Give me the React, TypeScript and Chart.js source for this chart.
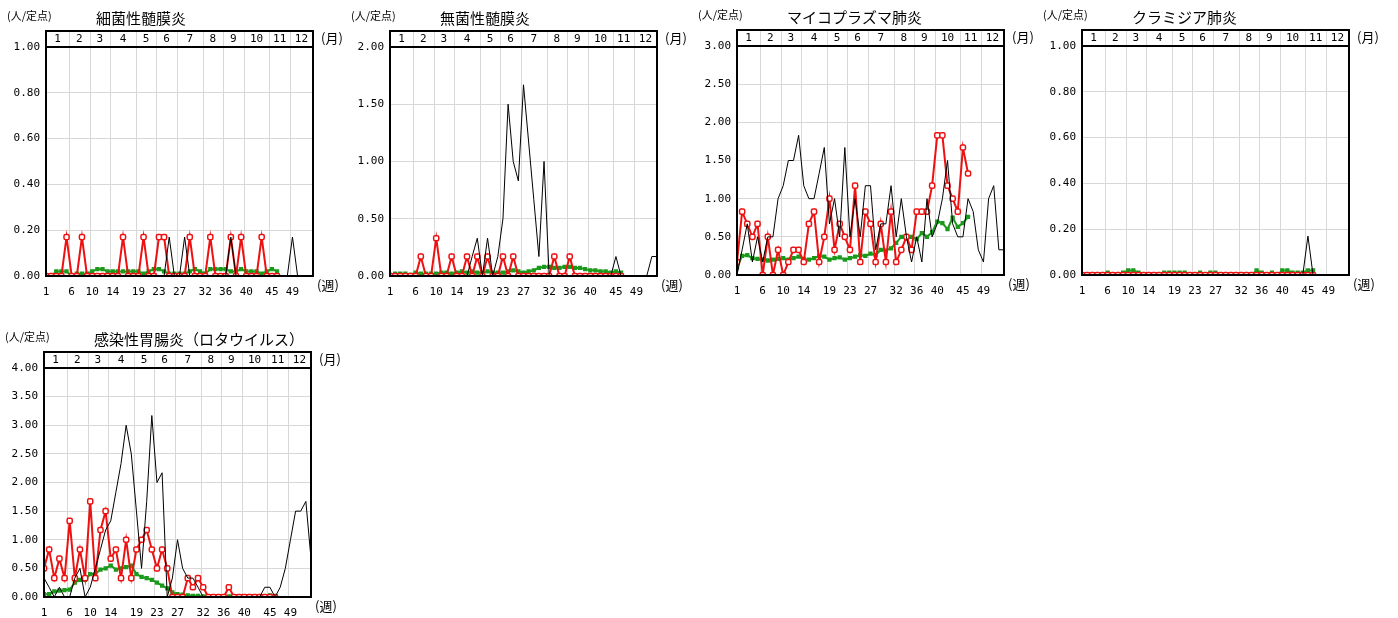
import { useEffect, useRef } from "react"
import { Chart, registerables } from "chart.js"

Chart.register(...registerables)

const weeks = Array.from({ length: 53 }, (_, i) => i + 1)
const weekTicks = [1, 6, 10, 14, 19, 23, 27, 32, 36, 40, 45, 49]
const monthLabels = ["1", "2", "3", "4", "5", "6", "7", "8", "9", "10", "11", "12"]
const monthEdges = [1, 5.5, 9.5, 13.5, 18.5, 22.5, 26.5, 31.5, 35.5, 39.5, 44.5, 48.5, 53]

// 細菌性髄膜炎
const bactPrev = [0,0,0,0,0,0,0,0,0,0,0,0,0,0,0,0,0,0,0,0,0,0,0,0,0.17,0,0,0.17,0,0,0,0,0,0,0,0,0.17,0,0,0,0,0,0,0,0,0,0,0,0.17,0,0,0,0]
const bactNow = [0,0,0,0,0.17,0,0,0.17,0,0,0,0,0,0,0,0.17,0,0,0,0.17,0,0,0.17,0.17,0,0,0,0,0.17,0,0,0,0.17,0,0,0,0.17,0,0.17,0,0,0,0.17,0,0,0]
const bactAvg = [0,0,0.02,0.02,0.02,0,0.01,0.01,0.01,0.02,0.03,0.03,0.02,0.02,0.02,0.02,0.02,0.02,0.02,0.01,0.02,0.03,0.03,0.02,0.01,0.01,0.01,0.01,0.02,0.03,0.02,0.01,0.03,0.03,0.03,0.03,0.02,0.02,0.03,0.02,0.02,0.02,0.01,0.02,0.03,0.02]

// 無菌性髄膜炎
const asepPrev = [0,0,0,0,0,0,0,0,0,0,0,0,0,0,0,0,0.17,0.33,0,0.33,0,0.17,0.5,1.5,1.0,0.83,1.67,1.17,0.67,0.17,1.0,0,0,0,0,0,0,0,0,0,0,0,0,0,0.17,0,0,0,0,0,0,0.17,0.17]
const asepNow = [0,0,0,0,0,0,0.17,0,0,0.33,0,0,0.17,0,0,0.17,0,0.17,0,0.17,0,0,0.17,0,0.17,0,0,0,0,0,0,0,0.17,0,0,0.17,0,0,0,0,0,0,0,0,0,0]
const asepAvg = [0.01,0.02,0.02,0.02,0.01,0.03,0.02,0.02,0.02,0.02,0.03,0.03,0.02,0.03,0.04,0.03,0.04,0.03,0.03,0.04,0.03,0.03,0.03,0.04,0.05,0.04,0.03,0.04,0.05,0.07,0.08,0.08,0.07,0.07,0.08,0.08,0.07,0.07,0.06,0.05,0.05,0.04,0.04,0.03,0.04,0.03]

// マイコプラズマ肺炎
const mycoPrev = [0,0.33,0.67,0.17,0.5,0.17,0.5,0.5,1.0,1.17,1.5,1.5,1.83,1.17,1.0,1.0,1.33,1.67,0.67,1.0,0.5,1.67,0.5,1.0,0.5,1.17,1.17,0.33,0.67,0.67,1.17,0.5,1.0,0.5,0.17,0.5,0.17,1.0,0.5,0.67,1.0,1.5,0.67,0.5,0.5,1.0,0.83,0.33,0.17,1.0,1.17,0.33,0.33]
const mycoNow = [0.17,0.83,0.67,0.5,0.67,0,0.5,0,0.33,0,0.17,0.33,0.33,0.17,0.67,0.83,0.17,0.5,1.0,0.33,0.67,0.5,0.33,1.17,0.17,0.83,0.67,0.17,0.67,0.17,0.83,0.17,0.33,0.5,0.33,0.83,0.83,0.83,1.17,1.83,1.83,1.17,1.0,0.83,1.67,1.33]
const mycoAvg = [0.1,0.25,0.26,0.22,0.21,0.2,0.19,0.2,0.21,0.22,0.2,0.22,0.24,0.21,0.2,0.22,0.25,0.24,0.2,0.22,0.23,0.2,0.22,0.24,0.26,0.25,0.28,0.26,0.33,0.32,0.35,0.42,0.5,0.48,0.5,0.47,0.55,0.5,0.56,0.7,0.68,0.6,0.75,0.63,0.68,0.76]

// クラミジア肺炎
const chlaPrev = [0,0,0,0,0,0,0,0,0,0,0,0,0,0,0,0,0,0,0,0,0,0,0,0,0,0,0,0,0,0,0,0,0,0,0,0,0,0,0,0,0,0,0,0,0.17,0,0,0,0,0,0,0,0]
const chlaNow = [0,0,0,0,0,0,0,0,0,0,0,0,0,0,0,0,0,0,0,0,0,0,0,0,0,0,0,0,0,0,0,0,0,0,0,0,0,0,0,0,0,0,0,0,0,0]
const chlaAvg = [0,0,0,0,0,0.01,0,0,0.01,0.02,0.02,0.01,0,0,0,0,0.01,0.01,0.01,0.01,0.01,0,0,0.01,0,0.01,0.01,0,0,0,0,0,0,0,0.02,0.01,0,0.01,0,0.02,0.02,0.01,0.01,0.01,0.02,0.02]

// 感染性胃腸炎（ロタウイルス）
const rotaPrev = [0.33,0.17,0,0.17,0,0,0.33,0.5,0,0.17,0.5,0.83,1.17,1.33,1.83,2.33,3.0,2.5,1.5,0.5,1.67,3.17,2.0,2.17,0,0.33,1.0,0.5,0.33,0.33,0.17,0,0,0,0,0,0,0,0,0,0,0,0,0.17,0.17,0,0.17,0.5,1.0,1.5,1.5,1.67,0.67]
const rotaNow = [0.5,0.83,0.33,0.67,0.33,1.33,0.33,0.83,0.33,1.67,0.33,1.17,1.5,0.67,0.83,0.33,1.0,0.33,0.83,1.0,1.17,0.83,0.5,0.83,0.5,0,0,0,0.33,0.17,0.33,0.17,0,0,0,0,0.17,0,0,0,0,0,0,0,0,0]
const rotaAvg = [0.05,0.05,0.1,0.11,0.12,0.13,0.25,0.3,0.3,0.4,0.4,0.48,0.5,0.55,0.48,0.5,0.52,0.55,0.4,0.35,0.33,0.3,0.25,0.2,0.15,0.08,0.05,0.04,0.03,0.02,0.02,0.01,0.01,0.01,0.01,0.01,0.01,0.01,0.01,0.01,0.01,0.01,0.01,0.01,0.03,0.01]

const W = 352
const H = 300

interface PanelProps {
  title: string
  left: number
  top: number
  yMax: number
  step: number
  prev: number[]
  now: number[]
  avg: number[]
}

function Panel({ title, left, top, yMax, step, prev, now, avg }: PanelProps) {
  const chartRef = useRef<HTMLCanvasElement>(null)

  useEffect(() => {
    if (!chartRef.current) return
    const ctx = chartRef.current.getContext("2d")
    if (!ctx) return

    const decor = {
      id: "decor",
      beforeDatasetsDraw(chart: any) {
        const { ctx, chartArea } = chart
        const xs = chart.scales.x
        ctx.save()
        ctx.strokeStyle = "#d8d8d8"
        ctx.lineWidth = 1
        for (let i = 1; i < monthEdges.length - 1; i++) {
          const px = Math.round(xs.getPixelForValue(monthEdges[i])) + 0.5
          ctx.beginPath()
          ctx.moveTo(px, chartArea.top - 16)
          ctx.lineTo(px, chartArea.bottom)
          ctx.stroke()
        }
        ctx.restore()
      },
      afterDraw(chart: any) {
        const { ctx, chartArea } = chart
        const xs = chart.scales.x
        const ht = chartArea.top - 16
        ctx.save()
        ctx.strokeStyle = "#000"
        ctx.lineWidth = 2
        ctx.strokeRect(chartArea.left, ht, chartArea.right - chartArea.left, chartArea.bottom - ht)
        ctx.beginPath()
        ctx.moveTo(chartArea.left, chartArea.top)
        ctx.lineTo(chartArea.right, chartArea.top)
        ctx.stroke()
        ctx.fillStyle = "#000"
        ctx.font = "11px 'DejaVu Sans Mono'"
        ctx.textAlign = "center"
        ctx.textBaseline = "middle"
        for (let i = 0; i < 12; i++) {
          const c = (xs.getPixelForValue(monthEdges[i]) + xs.getPixelForValue(monthEdges[i + 1])) / 2
          ctx.fillText(monthLabels[i], c, ht + 8)
        }
        ctx.textAlign = "left"
        ctx.font = "13px 'Noto Sans CJK JP'"
        ctx.fillText("(月)", chartArea.right + 8, ht + 7)
        ctx.fillText("(週)", chartArea.right + 4, chartArea.bottom + 9)
        ctx.font = "11px 'Noto Sans CJK JP'"
        ctx.fillText("(人/定点)", 7, ht - 15)
        ctx.font = "15px 'Noto Sans CJK JP'"
        ctx.fillText(title, 96, ht - 13)
        ctx.restore()
      },
    }

    const chart = new Chart(ctx, {
      type: "line",
      data: {
        labels: weeks,
        datasets: [
          {
            label: "prev",
            data: prev.map((v, i) => ({ x: i + 1, y: v })),
            borderColor: "#000",
            borderWidth: 1,
            pointRadius: 0,
            tension: 0,
          },
          {
            label: "now",
            data: now.map((v, i) => ({ x: i + 1, y: v })),
            borderColor: "#ee1111",
            backgroundColor: "#fff",
            borderWidth: 2,
            pointStyle: "rectRounded",
            pointRadius: 3,
            pointBorderWidth: 1.5,
            pointBorderColor: "#ee1111",
            tension: 0,
          },
          {
            label: "avg",
            data: avg.map((v, i) => ({ x: i + 1, y: v })),
            borderColor: "#1a9a1a",
            backgroundColor: "#1a9a1a",
            borderWidth: 2,
            pointStyle: "rect",
            pointRadius: 1.6,
            tension: 0,
          },
        ],
      },
      options: {
        animation: false,
        responsive: false,
        maintainAspectRatio: false,
        layout: { padding: { top: 47, right: W - 46 - 267, left: 0, bottom: 0 } },
        scales: {
          x: {
            type: "linear",
            min: 1,
            max: 53,
            grid: { display: false },
            border: { display: false },
            afterBuildTicks: (s: any) => {
              s.ticks = weekTicks.map((v) => ({ value: v }))
            },
            afterFit: (s: any) => {
              s.height = 24
            },
            ticks: {
              autoSkip: false,
              maxRotation: 0,
              padding: 2,
              color: "#000",
              font: { family: "DejaVu Sans Mono", size: 11 },
              callback: (v: any) => String(v),
            },
          },
          y: {
            min: 0,
            max: yMax,
            grid: { color: "#d8d8d8", drawTicks: false },
            border: { display: false },
            afterFit: (s: any) => {
              s.width = 46
            },
            ticks: {
              stepSize: step,
              padding: 6,
              color: "#000",
              font: { family: "DejaVu Sans Mono", size: 11 },
              callback: (v: any) => Number(v).toFixed(2),
            },
          },
        },
        plugins: {
          legend: { display: false },
          tooltip: { enabled: false },
        },
      },
      plugins: [decor],
    })

    return () => {
      chart.destroy()
    }
  }, [title, yMax, step, prev, now, avg])

  return (
    <canvas
      ref={chartRef}
      width={W}
      height={H}
      style={{ position: "absolute", left, top, width: W, height: H }}
    />
  )
}

export default function App() {
  return (
    <div style={{ position: "absolute", left: 0, top: 0, width: 1398, height: 618, background: "#fff" }}>
      <Panel title="細菌性髄膜炎" left={0} top={0} yMax={1} step={0.2} prev={bactPrev} now={bactNow} avg={bactAvg} />
      <Panel title="無菌性髄膜炎" left={344} top={0} yMax={2} step={0.5} prev={asepPrev} now={asepNow} avg={asepAvg} />
      <Panel title="マイコプラズマ肺炎" left={691} top={-1} yMax={3} step={0.5} prev={mycoPrev} now={mycoNow} avg={mycoAvg} />
      <Panel title="クラミジア肺炎" left={1036} top={-1} yMax={1} step={0.2} prev={chlaPrev} now={chlaNow} avg={chlaAvg} />
      <Panel title="感染性胃腸炎（ロタウイルス）" left={-2} top={321} yMax={4} step={0.5} prev={rotaPrev} now={rotaNow} avg={rotaAvg} />
    </div>
  )
}
